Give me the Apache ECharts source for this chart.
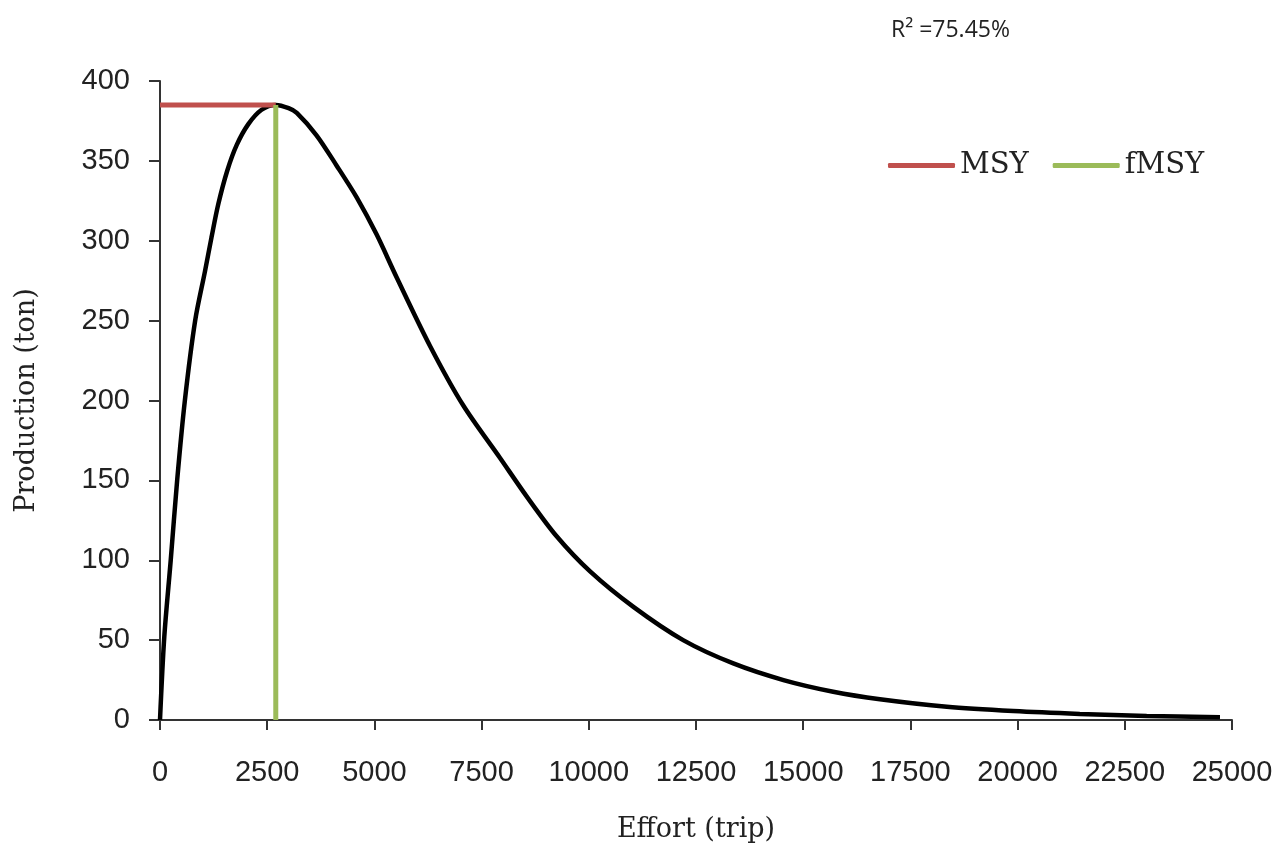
<!DOCTYPE html>
<html>
<head>
<meta charset="utf-8">
<title>Effort vs Production</title>
<script src="https://cdn.jsdelivr.net/npm/echarts@6/dist/echarts.min.js"></script>
<style>
    html, body { margin: 0; padding: 0; background: #fff; }
    #chart { width: 1278px; height: 853px; }
</style>
</head>
<body>
<div id="chart"></div>
<script>
    // fitted curve
    var effort = [0, 100, 250, 400, 580, 820, 1050, 1200, 1360, 1570, 1790, 2060, 2370, 2700,
        3000, 3190, 3650, 4120, 4590, 5050, 5520, 6300, 7070, 7930, 8550, 9250, 10030, 11040,
        12200, 13370, 14540, 15700, 16790, 18350, 19900, 21450, 23010, 24720];
    var production = [0, 52, 100, 150, 200, 250, 281, 302, 323, 344, 360, 373, 382, 385,
        383, 380, 366, 347, 327, 304, 277, 234, 197, 164, 140, 115, 93, 70.8,
        50, 35.4, 25, 17.7, 13, 8.3, 5.6, 3.8, 2.5, 1.7];

    var msy = 385;
    var fmsy = 2700;

    var xTicks = { min: 0, max: 25000, interval: 2500 };
    var yTicks = { min: 0, max: 400, interval: 50 };

    var curveData = [];
    for (var i = 0; i < effort.length; i++) {
        curveData.push([effort[i], production[i]]);
    }

    var myChart = echarts.init(document.getElementById("chart"));
    myChart.setOption({
        animation: false,
        title: {
            text: "R\u00b2 =75.45%",
            left: 886,
            top: 14,
            textStyle: {
                fontFamily: "Open Sans",
                fontSize: 23,
                fontWeight: "normal",
                color: "#222"
            }
        },
        legend: {
            data: ["MSY", "fMSY"],
            left: 883,
            top: 146,
            icon: "roundRect",
            itemWidth: 67,
            itemHeight: 5,
            itemGap: 24,
            textStyle: {
                fontFamily: "DejaVu Serif",
                fontSize: 29,
                color: "#222"
            }
        },
        grid: {
            left: 160,
            right: 46,
            top: 81,
            bottom: 133
        },
        xAxis: {
            type: "value",
            min: xTicks.min,
            max: xTicks.max,
            interval: xTicks.interval,
            name: "Effort (trip)",
            nameLocation: "middle",
            nameGap: 96,
            nameTextStyle: {
                fontFamily: "DejaVu Serif",
                fontSize: 27,
                color: "#222"
            },
            axisLine: { lineStyle: { color: "#333", width: 2 } },
            axisTick: { show: true, length: 10, lineStyle: { color: "#333", width: 2 } },
            axisLabel: {
                margin: 38,
                fontFamily: "Liberation Sans",
                fontSize: 29,
                color: "#222",
                formatter: function (v) { return String(v); }
            },
            splitLine: { show: false }
        },
        yAxis: {
            type: "value",
            min: yTicks.min,
            max: yTicks.max,
            interval: yTicks.interval,
            name: "Production (ton)",
            nameLocation: "middle",
            nameGap: 120,
            nameTextStyle: {
                fontFamily: "DejaVu Serif",
                fontSize: 27,
                color: "#222"
            },
            axisLine: { show: true, lineStyle: { color: "#333", width: 2 } },
            axisTick: { show: true, length: 11, lineStyle: { color: "#333", width: 2 } },
            axisLabel: {
                margin: 30,
                fontFamily: "Liberation Sans",
                fontSize: 29,
                color: "#222"
            },
            splitLine: { show: false }
        },
        series: [
            {
                name: "Production",
                type: "line",
                data: curveData,
                smooth: 0.3,
                showSymbol: false,
                lineStyle: { color: "#000", width: 4.5 },
                z: 2
            },
            {
                name: "MSY",
                type: "line",
                data: [[0, msy], [fmsy, msy]],
                showSymbol: false,
                itemStyle: { color: "#C0504D" },
                lineStyle: { color: "#C0504D", width: 5 },
                z: 3
            },
            {
                name: "fMSY",
                type: "line",
                data: [[fmsy, 0], [fmsy, msy]],
                showSymbol: false,
                itemStyle: { color: "#9BBB59" },
                lineStyle: { color: "#9BBB59", width: 5 },
                z: 4
            }
        ]
    });
</script>
</body>
</html>
